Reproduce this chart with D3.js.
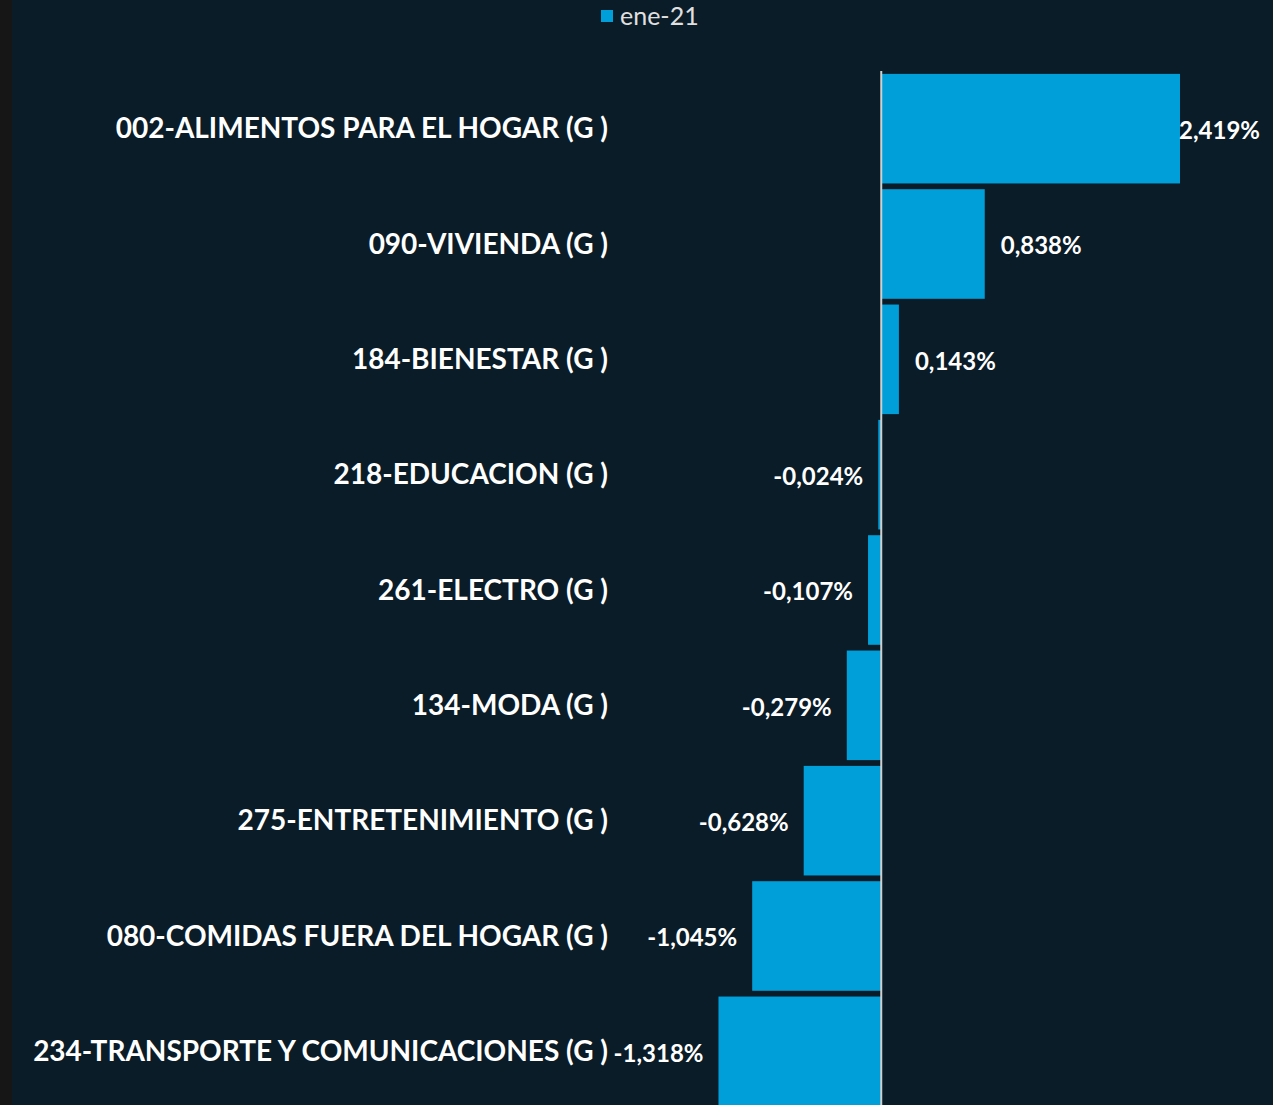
<!DOCTYPE html>
<html>
<meta charset="utf-8">
<head>
<script src="https://d3js.org/d3.v7.min.js"></script>
<style>
  body { margin: 0; background: #0a1c27; }
  svg { display: block; }
</style>
</head>
<body>
<script>
// datos
var categorias = [
  "002-ALIMENTOS PARA EL HOGAR (G )",
  "090-VIVIENDA (G )",
  "184-BIENESTAR (G )",
  "218-EDUCACION (G )",
  "261-ELECTRO (G )",
  "134-MODA (G )",
  "275-ENTRETENIMIENTO (G )",
  "080-COMIDAS FUERA DEL HOGAR (G )",
  "234-TRANSPORTE Y COMUNICACIONES (G )"
];
var valores = [2.419, 0.838, 0.143, -0.024, -0.107, -0.279, -0.628, -1.045, -1.318];
var serie = "ene-21";

var width = 1273, height = 1105;
var azul = "#009fd9";

var svg = d3.select("body").append("svg")
  .attr("width", width)
  .attr("height", height);

svg.append("rect").attr("width", width).attr("height", height).attr("fill", "#0a1c27");
// franja oscura a la izquierda
svg.append("rect").attr("x", 0).attr("y", 0).attr("width", 12).attr("height", height).attr("fill", "#161616");

var x = d3.scaleLinear().domain([-1.5, 2.5]).range([696, 1190]);
var y = d3.scaleBand().domain(categorias).range([71, 1109]).paddingInner(0.05).paddingOuter(0.025);

var filas = categorias.map(function (c, i) { return { cat: c, val: valores[i] }; });

// barras
svg.selectAll("rect.bar")
  .data(filas)
  .join("rect")
  .attr("class", "bar")
  .attr("x", function (d) { return x(Math.min(0, d.val)); })
  .attr("y", function (d) { return y(d.cat); })
  .attr("width", function (d) { return Math.abs(x(d.val) - x(0)); })
  .attr("height", y.bandwidth())
  .attr("fill", azul);

// linea del cero
svg.append("line")
  .attr("x1", x(0)).attr("x2", x(0))
  .attr("y1", 71).attr("y2", height)
  .attr("stroke", "#d0d0d0").attr("stroke-width", 2);

// etiquetas de categoria
svg.selectAll("text.cat")
  .data(filas)
  .join("text")
  .attr("class", "cat")
  .attr("x", 608)
  .attr("y", function (d) { return y(d.cat) + y.bandwidth() / 2; })
  .attr("dy", "0.35em")
  .attr("text-anchor", "end")
  .attr("fill", "#ffffff")
  .style("font-family", "Lato, 'Open Sans', sans-serif")
  .style("font-weight", "bold")
  .style("font-size", "28px")
  .text(function (d) { return d.cat; });

// etiquetas de valor
var fmt = function (v) { return d3.format(".3f")(v).replace(".", ",").replace("−", "-") + "%"; };
svg.selectAll("text.val")
  .data(filas)
  .join("text")
  .attr("class", "val")
  .attr("y", function (d) { return y(d.cat) + y.bandwidth() / 2 + 2; })
  .attr("dy", "0.35em")
  .attr("fill", "#ffffff")
  .style("font-family", "Lato, 'Open Sans', sans-serif")
  .style("font-weight", "bold")
  .style("font-size", "24px")
  .text(function (d) { return fmt(d.val); })
  .each(function (d) {
    var t = d3.select(this);
    var w = this.getComputedTextLength();
    if (d.val >= 0) {
      var xx = Math.min(x(d.val) + 16, 1260 - w);
      t.attr("x", xx).attr("text-anchor", "start");
    } else {
      t.attr("x", x(d.val) - 15).attr("text-anchor", "end");
    }
  });

// leyenda
var ley = svg.append("g");
ley.append("rect").attr("x", 601).attr("y", 10).attr("width", 12).attr("height", 12).attr("fill", azul);
ley.append("text")
  .attr("x", 620).attr("y", 16)
  .attr("dy", "0.35em")
  .attr("fill", "#e0e0e0")
  .style("font-family", "Lato, 'Open Sans', sans-serif")
  .style("font-size", "25px")
  .text(serie);
</script>
</body>
</html>
